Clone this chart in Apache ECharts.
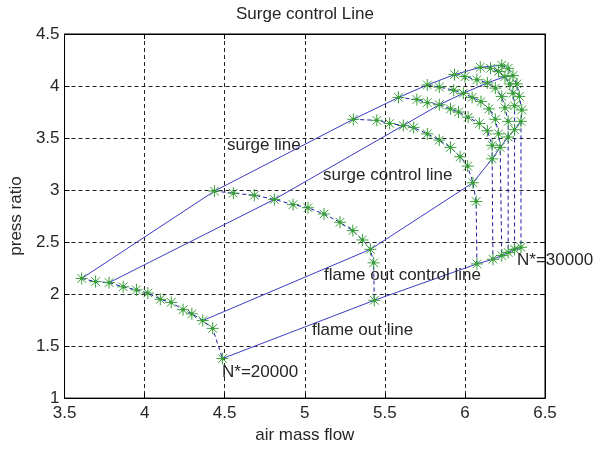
<!DOCTYPE html>
<html>
<head>
<meta charset="utf-8">
<script src="https://cdn.jsdelivr.net/npm/echarts@6/dist/echarts.min.js"></script>
<style>html,body{margin:0;padding:0;background:#fff}#c{width:610px;height:449px}</style>
</head>
<body>
<div id="c"></div>
<script>
// ---- data (air mass flow, press ratio) ----
const xTicks = [3.5, 4, 4.5, 5, 5.5, 6, 6.5];
const yTicks = [1, 1.5, 2, 2.5, 3, 3.5, 4, 4.5];

const speed1 = [[3.607,2.15],[3.694,2.12],[3.778,2.11],[3.866,2.07],[3.949,2.04],[4.02,2.01],[4.098,1.95],[4.166,1.92],[4.24,1.85],[4.295,1.81],[4.363,1.745],[4.425,1.67],[4.486,1.38]];
const speed2 = [[4.436,2.99],[4.554,2.97],[4.685,2.95],[4.81,2.91],[4.927,2.86],[5.02,2.83],[5.12,2.77],[5.22,2.69],[5.30,2.61],[5.36,2.52],[5.41,2.43],[5.43,2.30],[5.434,1.94]];
const speed3 = [[5.303,3.68],[5.45,3.67],[5.53,3.64],[5.615,3.62],[5.68,3.60],[5.765,3.54],[5.84,3.48],[5.91,3.41],[5.97,3.32],[6.017,3.23],[6.05,3.07],[6.07,2.89],[6.075,2.29]];
const speed4 = [[5.585,3.89],[5.70,3.87],[5.765,3.84],[5.84,3.82],[5.91,3.78],[5.96,3.75],[6.02,3.70],[6.09,3.64],[6.14,3.57],[6.17,3.43],[6.17,3.30],[6.175,2.335]];
const speed5 = [[5.765,4.01],[5.84,3.99],[5.93,3.96],[5.99,3.93],[6.045,3.89],[6.10,3.85],[6.15,3.78],[6.19,3.68],[6.21,3.54],[6.22,3.41],[6.23,2.37]];
const speed6 = [[5.935,4.11],[6.00,4.09],[6.075,4.06],[6.14,4.03],[6.19,3.98],[6.23,3.90],[6.25,3.79],[6.27,3.66],[6.27,3.51],[6.27,2.40]];
const speed7 = [[6.096,4.18],[6.16,4.17],[6.21,4.14],[6.25,4.09],[6.28,4.02],[6.30,3.93],[6.31,3.81],[6.31,3.58],[6.31,2.43]];
const speed8 = [[6.23,4.20],[6.27,4.17],[6.30,4.10],[6.325,4.02],[6.34,3.90],[6.355,3.77],[6.35,3.66],[6.35,2.45]];

const surgeLine = [[3.607,2.15],[4.436,2.99],[5.303,3.68],[5.585,3.89],[5.765,4.01],[5.935,4.11],[6.096,4.18],[6.23,4.20]];
const surgeControlLine = [[3.778,2.11],[4.81,2.91],[5.615,3.62],[5.84,3.82],[5.99,3.93],[6.14,4.03],[6.25,4.09],[6.30,4.10]];
const flameOutControlLine = [[4.363,1.745],[5.41,2.43],[6.05,3.07],[6.17,3.30],[6.22,3.41],[6.27,3.51],[6.31,3.58],[6.35,3.66]];
const flameOutLine = [[4.486,1.38],[5.434,1.94],[6.075,2.29],[6.175,2.335],[6.23,2.37],[6.27,2.40],[6.31,2.43],[6.35,2.45]];

const speedLines = [speed1, speed2, speed3, speed4, speed5, speed6, speed7, speed8];
const controlLines = [surgeLine, surgeControlLine, flameOutControlLine, flameOutLine];

// ---- chart ----
const FONT = '"Liberation Sans", Arial, sans-serif';
const TXT = '#262626';
const chart = echarts.init(document.getElementById('c'), null, {renderer: 'canvas'});
const star = 'path://M0,-5L0,5M-5,0L5,0M-3.6,-3.6L3.6,3.6M-3.6,3.6L3.6,-3.6M-0.9,-0.9L0.9,-0.9L0.9,0.9L-0.9,0.9Z';

const series = [];
controlLines.forEach(function (d) {
  series.push({
    type: 'line', data: d, showSymbol: false, symbol: 'none', z: 2,
    lineStyle: {color: '#3b3bc2', width: 1, type: 'solid'}
  });
});
speedLines.forEach(function (d) {
  series.push({
    type: 'line', data: d, symbol: star, symbolSize: 12, z: 3,
    lineStyle: {color: '#1c1ca8', width: 1, type: [4, 3]},
    itemStyle: {color: '#006a00', borderColor: '#3aa03a', borderWidth: 1}
  });
});

function txt(text, x, y) {
  return {type: 'text', x: x, y: y, z: 10,
    style: {text: text, fill: TXT, font: '17px ' + FONT, verticalAlign: 'middle', align: 'left'}};
}

chart.setOption({
  animation: false,
  backgroundColor: '#fff',
  title: {text: 'Surge control Line', left: 'center', top: 1,
    textStyle: {fontSize: 17, fontWeight: 'normal', color: TXT, fontFamily: FONT}},
  grid: {left: 62, right: 65, top: 34, bottom: 46, show: true, borderColor: '#000', borderWidth: 1, backgroundColor: 'transparent'},
  xAxis: [{
    type: 'value', min: xTicks[0], max: xTicks[xTicks.length - 1], interval: 0.5,
    name: 'air mass flow', nameLocation: 'middle', nameGap: 28,
    nameTextStyle: {fontSize: 17, color: TXT, fontFamily: FONT},
    axisLine: {lineStyle: {color: '#000', width: 1}},
    axisTick: {inside: true, length: 5, lineStyle: {color: '#000'}},
    axisLabel: {fontSize: 17, color: TXT, fontFamily: FONT, margin: 7},
    splitLine: {show: true, lineStyle: {color: '#222', type: [4, 3], width: 1}}
  }, {
    type: 'value', position: 'top', min: xTicks[0], max: xTicks[xTicks.length - 1], interval: 0.5,
    axisLine: {lineStyle: {color: '#000'}}, axisTick: {inside: true, length: 5, lineStyle: {color: '#000'}},
    axisLabel: {show: false}, splitLine: {show: false}
  }],
  yAxis: [{
    type: 'value', min: yTicks[0], max: yTicks[yTicks.length - 1], interval: 0.5,
    name: 'press ratio', nameLocation: 'middle', nameGap: 30, nameRotate: 90,
    nameTextStyle: {fontSize: 17, color: TXT, fontFamily: FONT},
    axisLine: {show: true, lineStyle: {color: '#000', width: 1}},
    axisTick: {show: true, inside: true, length: 5, lineStyle: {color: '#000'}},
    axisLabel: {fontSize: 17, color: TXT, fontFamily: FONT, margin: 5},
    splitLine: {show: true, lineStyle: {color: '#222', type: [4, 3], width: 1}}
  }, {
    type: 'value', position: 'right', min: yTicks[0], max: yTicks[yTicks.length - 1], interval: 0.5,
    axisLine: {show: true, lineStyle: {color: '#000'}}, axisTick: {show: true, inside: true, length: 5, lineStyle: {color: '#000'}},
    axisLabel: {show: false}, splitLine: {show: false}
  }],
  graphic: [
    txt('surge line', 227, 145),
    txt('surge control line', 323, 175),
    txt('flame out control line', 324, 275),
    txt('flame out line', 312, 330),
    txt('N*=20000', 222, 372),
    txt('N*=30000', 517, 260)
  ],
  series: series
});
</script>
</body>
</html>
